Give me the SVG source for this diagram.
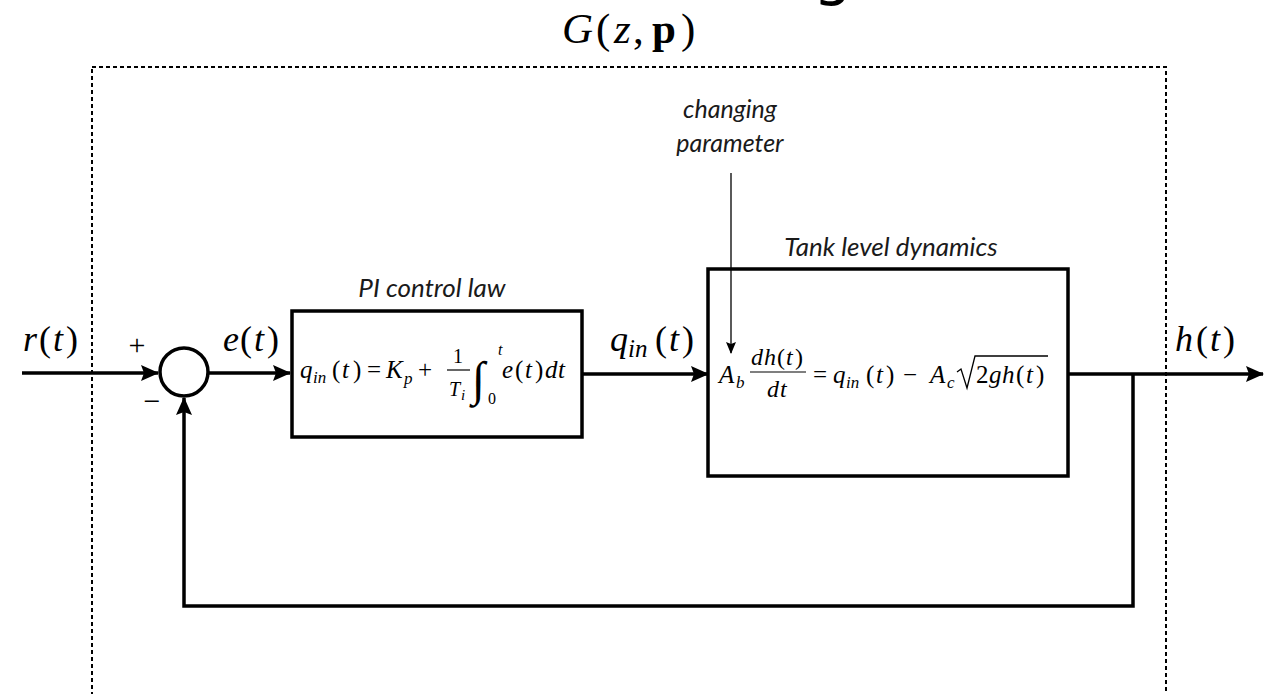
<svg xmlns="http://www.w3.org/2000/svg" width="1265" height="694" viewBox="0 0 1265 694">
  <style>
    .m { font-family: "Liberation Serif", "DejaVu Serif", serif; fill: #000; }
    .i { font-style: italic; }
    .lbl { font-family: "Lato", "Open Sans", sans-serif; font-style: italic; fill: #1a1a1a; }
    .wire { fill: none; stroke: #000; stroke-width: 3.5; }
    .box { fill: #fff; stroke: #000; stroke-width: 3.5; }
    .thin { fill: none; stroke: #000; stroke-width: 1.3; }
    .bar { stroke: #000; stroke-width: 1.2; }
  </style>
  <defs>
    <marker id="head" viewBox="0 0 18 18" markerWidth="18" markerHeight="18" refX="17" refY="9" orient="auto" markerUnits="userSpaceOnUse">
      <path d="M0,1 L18,9 L0,17 L3,9 z" fill="#000"/>
    </marker>
    <marker id="headThin" viewBox="0 0 12 12" markerWidth="12" markerHeight="12" refX="11" refY="6" orient="auto" markerUnits="userSpaceOnUse">
      <path d="M0,1 L12,6 L0,11 L2,6 z" fill="#000"/>
    </marker>
  </defs>
  <rect width="1265" height="694" fill="#fff"/>

  <!-- heading glyph running off the top edge -->
  <text x="813" y="-7" font-family="DejaVu Sans, sans-serif" font-size="62" fill="#000">g</text>

  <!-- plant boundary -->
  <g id="boundary">
    <rect x="92" y="67" width="1074" height="700" fill="none" stroke="#000" stroke-width="2" stroke-dasharray="4,3"/>
    <text class="m" y="43" font-size="43"><tspan class="i" x="562">G</tspan><tspan x="596">(</tspan><tspan class="i" x="614">z</tspan><tspan x="633">,</tspan><tspan font-weight="bold" x="652">p</tspan><tspan x="681">)</tspan></text>
  </g>

  <!-- summing junction -->
  <g id="sum">
    <circle cx="184" cy="372" r="24" fill="#fff" stroke="#000" stroke-width="3.5"/>
    <text class="m" x="137" y="355" font-size="30" text-anchor="middle">+</text>
    <text class="m" x="152" y="411" font-size="30" text-anchor="middle">−</text>
  </g>

  <!-- PI controller -->
  <g id="pi">
    <rect class="box" x="292" y="311" width="290" height="126"/>
    <text class="lbl" x="432" y="297" font-size="26" text-anchor="middle">PI control law</text>
    <text class="m" y="378" font-size="25"><tspan class="i" x="300">q</tspan><tspan class="i" x="313" y="383" font-size="17">in</tspan><tspan x="332" y="378">(</tspan><tspan class="i" x="342">t</tspan><tspan x="353">)</tspan><tspan x="367">=</tspan><tspan class="i" x="386">K</tspan><tspan class="i" x="404" y="384" font-size="17">p</tspan><tspan x="418" y="378">+</tspan></text>
    <text class="m" x="458" y="363" font-size="20" text-anchor="middle">1</text>
    <line class="bar" x1="447" y1="370" x2="470" y2="370"/>
    <text class="m i" y="396" font-size="20"><tspan x="449">T</tspan><tspan x="461" y="400" font-size="15">i</tspan></text>
    <text class="m" x="472" y="395" font-size="48" font-style="italic">∫</text>
    <text class="m i" x="498" y="355" font-size="16">t</text>
    <text class="m" x="488" y="404" font-size="16">0</text>
    <text class="m" y="378" font-size="25"><tspan class="i" x="502">e</tspan><tspan x="515">(</tspan><tspan class="i" x="525">t</tspan><tspan x="535">)</tspan><tspan class="i" x="545">d</tspan><tspan class="i" x="558">t</tspan></text>
  </g>

  <!-- tank dynamics -->
  <g id="tank">
    <rect class="box" x="708" y="269" width="360" height="207"/>
    <text class="lbl" x="891" y="256" font-size="26" text-anchor="middle">Tank level dynamics</text>
    <text class="m i" y="383" font-size="25"><tspan x="719">A</tspan><tspan x="736" y="388" font-size="17">b</tspan></text>
    <text class="m" y="365" font-size="24"><tspan class="i" x="751">d</tspan><tspan class="i" x="764">h</tspan><tspan x="777">(</tspan><tspan class="i" x="786">t</tspan><tspan x="795">)</tspan></text>
    <line class="bar" x1="750" y1="372" x2="806" y2="372"/>
    <text class="m i" y="397" font-size="24"><tspan x="767">d</tspan><tspan x="780">t</tspan></text>
    <text class="m" y="383" font-size="25"><tspan x="813">=</tspan><tspan class="i" x="833">q</tspan><tspan class="i" x="846" y="388" font-size="17">in</tspan><tspan x="866" y="383">(</tspan><tspan class="i" x="876">t</tspan><tspan x="886">)</tspan><tspan x="903">−</tspan><tspan class="i" x="930">A</tspan><tspan class="i" x="947" y="388" font-size="17">c</tspan></text>
    <path d="M957,372 L961,369 L967,388 L975,356 L1048,356" fill="none" stroke="#000" stroke-width="1.3"/>
    <text class="m" y="383" font-size="25"><tspan x="976">2</tspan><tspan class="i" x="989">g</tspan><tspan class="i" x="1002">h</tspan><tspan x="1016">(</tspan><tspan class="i" x="1026">t</tspan><tspan x="1036">)</tspan></text>
  </g>

  <!-- parameter annotation -->
  <g id="param">
    <text class="lbl" x="730" y="118" font-size="25" text-anchor="middle">changing</text>
    <text class="lbl" x="730" y="152" font-size="25" text-anchor="middle">parameter</text>
  </g>

  <!-- signal labels -->
  <g id="signals">
    <text class="m" y="351" font-size="36"><tspan class="i" x="23">r</tspan><tspan x="39">(</tspan><tspan class="i" x="53">t</tspan><tspan x="66">)</tspan></text>
    <text class="m" y="351" font-size="36"><tspan class="i" x="223">e</tspan><tspan x="240">(</tspan><tspan class="i" x="254">t</tspan><tspan x="267">)</tspan></text>
    <text class="m" y="351" font-size="36"><tspan class="i" x="610">q</tspan><tspan class="i" x="628" y="357" font-size="25">in</tspan><tspan x="655" y="351">(</tspan><tspan class="i" x="669">t</tspan><tspan x="682">)</tspan></text>
    <text class="m" y="351" font-size="36"><tspan class="i" x="1175">h</tspan><tspan x="1196">(</tspan><tspan class="i" x="1210">t</tspan><tspan x="1223">)</tspan></text>
  </g>

  <!-- connectors -->
  <g id="connectors">
    <line class="wire" x1="22" y1="373" x2="158" y2="373" marker-end="url(#head)"/>
    <line class="wire" x1="209" y1="373" x2="290" y2="373" marker-end="url(#head)"/>
    <line class="wire" x1="582" y1="374" x2="708" y2="374" marker-end="url(#head)"/>
    <line class="wire" x1="1068" y1="374" x2="1263" y2="374" marker-end="url(#head)"/>
    <polyline class="wire" points="1133,374 1133,606 184,606 184,398" marker-end="url(#head)"/>
    <line class="thin" x1="731" y1="173" x2="731" y2="353" marker-end="url(#headThin)"/>
  </g>
</svg>
